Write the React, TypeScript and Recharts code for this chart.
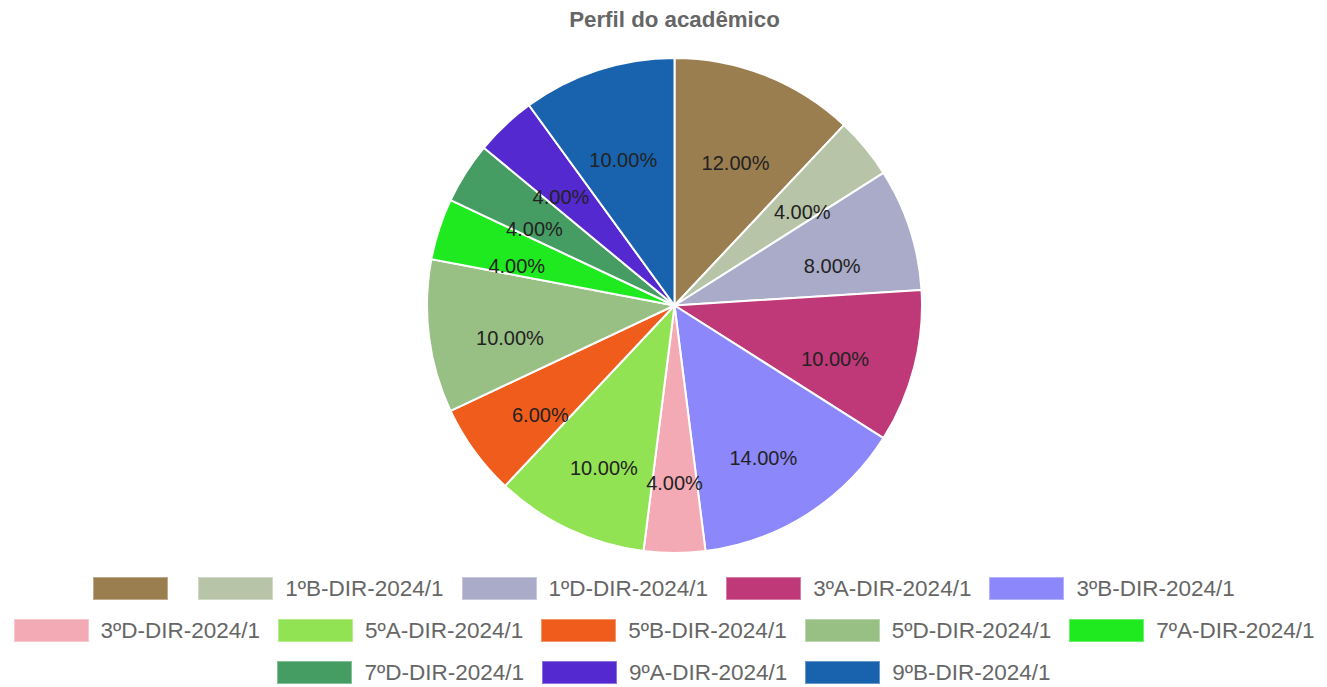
import React from 'react';
import { PieChart, Pie, Cell } from 'recharts';

const turmas = [
  '',
  '1ºB-DIR-2024/1',
  '1ºD-DIR-2024/1',
  '3ºA-DIR-2024/1',
  '3ºB-DIR-2024/1',
  '3ºD-DIR-2024/1',
  '5ºA-DIR-2024/1',
  '5ºB-DIR-2024/1',
  '5ºD-DIR-2024/1',
  '7ºA-DIR-2024/1',
  '7ºD-DIR-2024/1',
  '9ºA-DIR-2024/1',
  '9ºB-DIR-2024/1',
];
const alunos = [6, 2, 4, 5, 7, 2, 5, 3, 5, 2, 2, 2, 5];
const cores = [
  '#9b7e50',
  '#b7c4a8',
  '#a9abc8',
  '#bf3878',
  '#8c88fc',
  '#f4aab5',
  '#92e354',
  '#f05c1c',
  '#98bf84',
  '#1fea20',
  '#469d64',
  '#5529d0',
  '#1962ad',
];
// how many legend entries go on each row
const linhasLegenda = [5, 5, 3];

const FONT = "'Liberation Sans', Arial, Helvetica, sans-serif";
const RADIAN = Math.PI / 180;

const dados = turmas.map((nome, i) => ({ nome, alunos: alunos[i] }));

const renderLabel = (props: any) => {
  const { cx, cy, midAngle, outerRadius, percent } = props;
  const r = outerRadius * 0.67;
  const x = cx + r * Math.cos(-midAngle * RADIAN);
  const y = cy + r * Math.sin(-midAngle * RADIAN) + 12;
  return (
    <text x={x} y={y} textAnchor="middle" dominantBaseline="central" fill="#222" fontSize={20} fontFamily={FONT}>
      {(percent * 100).toFixed(2)}%
    </text>
  );
};

const LegendaTurmas = () => {
  let inicio = 0;
  const linhas = linhasLegenda.map((n) => {
    const itens = turmas.slice(inicio, inicio + n).map((nome, j) => ({ nome, cor: cores[inicio + j] }));
    inicio += n;
    return itens;
  });
  return (
    <div
      style={{
        position: 'absolute',
        left: 0,
        top: 577,
        width: 1296,
        paddingLeft: 16,
        fontFamily: FONT,
      }}
    >
      {linhas.map((itens, li) => (
        <div key={li} style={{ display: 'flex', justifyContent: 'center', height: 42, alignItems: 'flex-start' }}>
          {itens.map((it, k) => (
            <div
              key={it.nome + k}
              style={{
                display: 'flex',
                alignItems: 'center',
                flexShrink: 0,
                marginLeft: k === 0 ? 0 : 18,
                height: 23,
              }}
            >
              <div style={{ width: 73, height: 21, background: it.cor, border: '1px solid rgba(255,255,255,0.35)' }} />
              <span style={{ marginLeft: 12, fontSize: 22.5, color: '#666', whiteSpace: 'nowrap', lineHeight: '23px' }}>
                {it.nome}
              </span>
            </div>
          ))}
        </div>
      ))}
    </div>
  );
};

export default function App() {
  return (
    <div style={{ position: 'absolute', left: 0, top: 0, width: 1327, height: 687, background: '#fff', overflow: 'hidden' }}>
      <div
        style={{
          position: 'absolute',
          left: 474.5,
          top: 9,
          width: 400,
          textAlign: 'center',
          fontFamily: FONT,
          fontWeight: 'bold',
          fontSize: 22.3,
          lineHeight: '22px',
          color: '#666',
          zIndex: 1,
        }}
      >
        Perfil do acadêmico
      </div>
      <PieChart width={1327} height={687} margin={{ top: 0, right: 0, bottom: 0, left: 0 }}>
        <Pie
          data={dados}
          dataKey="alunos"
          nameKey="nome"
          cx={674.5}
          cy={305.5}
          outerRadius={247.5}
          startAngle={90}
          endAngle={-270}
          stroke="#fff"
          strokeWidth={2}
          label={renderLabel}
          labelLine={false}
          isAnimationActive={false}
        >
          {dados.map((d, i) => (
            <Cell key={i} fill={cores[i]} />
          ))}
        </Pie>
      </PieChart>
      <LegendaTurmas />
    </div>
  );
}
